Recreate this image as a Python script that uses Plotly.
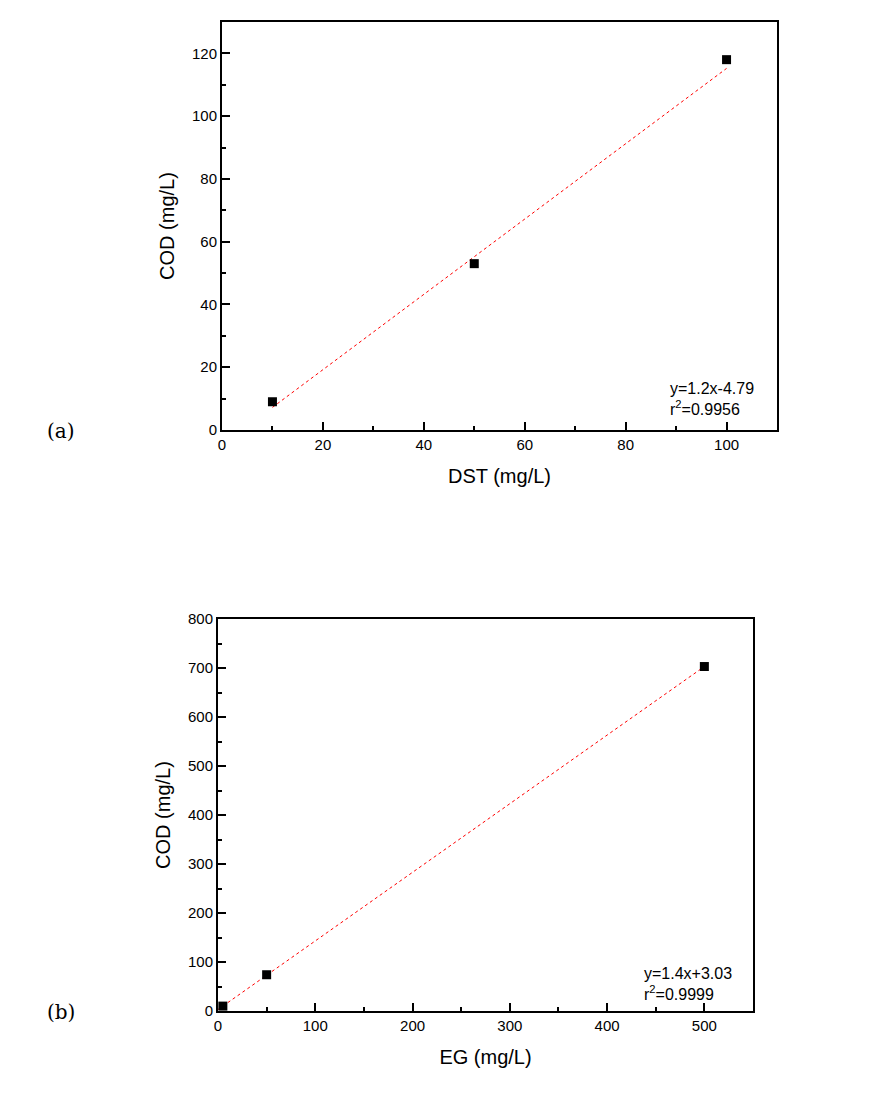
import plotly.graph_objects as go

# Panel (a): DST
dst_x = [10, 50, 100]
dst_cod = [9, 53, 118]
dst_fit_slope = 1.2
dst_fit_intercept = -4.79
dst_fit_range = [10, 100]

# Panel (b): EG
eg_x = [5, 50, 500]
eg_cod = [10, 74, 703]
eg_fit_slope = 1.4
eg_fit_intercept = 3.03
eg_fit_range = [0, 500]

W, H = 886, 1107
FONT = "Liberation Sans, Arial, sans-serif"

fig = go.Figure()

def add_panel(xs, ys, slope, icpt, rng, xa, ya):
    fx = list(rng)
    fy = [slope * v + icpt for v in fx]
    fig.add_trace(go.Scatter(x=fx, y=fy, mode="lines", xaxis=xa, yaxis=ya,
                             line=dict(color="red", width=1, dash="dot"),
                             showlegend=False, hoverinfo="skip"))
    fig.add_trace(go.Scatter(x=xs, y=ys, mode="markers", xaxis=xa, yaxis=ya,
                             marker=dict(symbol="square", size=9, color="black",
                                         line=dict(width=0)),
                             showlegend=False))

add_panel(dst_x, dst_cod, dst_fit_slope, dst_fit_intercept, dst_fit_range, "x", "y")
add_panel(eg_x, eg_cod, eg_fit_slope, eg_fit_intercept, eg_fit_range, "x2", "y2")

def px_x(p):
    return p / W

def px_y(p):
    return 1 - p / H

common = dict(showline=True, linecolor="black", linewidth=2, mirror=True,
              ticks="inside", ticklen=8, tickwidth=2, tickcolor="black",
              showgrid=False, zeroline=False, automargin=False,
              tickfont=dict(family=FONT, size=15, color="black"),
              title_font=dict(family=FONT, size=20, color="black"))

fig.update_layout(
    width=W, height=H, margin=dict(l=0, r=0, t=0, b=0, pad=0),
    paper_bgcolor="white", plot_bgcolor="white",
    xaxis=dict(domain=[px_x(222), px_x(777)], range=[0, 110], dtick=20,
               minor=dict(ticks="inside", ticklen=4, tickwidth=2, dtick=10, tickcolor="black"),
               title=dict(text="DST (mg/L)", standoff=17), anchor="y", **common),
    yaxis=dict(domain=[px_y(430), px_y(22)], range=[0, 130], dtick=20,
               minor=dict(ticks="inside", ticklen=4, tickwidth=2, dtick=10, tickcolor="black"),
               title=dict(text="COD (mg/L)", standoff=12), anchor="x", **common),
    xaxis2=dict(domain=[px_x(218), px_x(753)], range=[0, 550], dtick=100,
                minor=dict(ticks="inside", ticklen=4, tickwidth=2, dtick=50, tickcolor="black"),
                title=dict(text="EG (mg/L)", standoff=17), anchor="y2", **common),
    yaxis2=dict(domain=[px_y(1011), px_y(619)], range=[0, 800], dtick=100,
                minor=dict(ticks="inside", ticklen=4, tickwidth=2, dtick=50, tickcolor="black"),
                title=dict(text="COD (mg/L)", standoff=12), anchor="x2", **common),
)

ann_font = dict(family=FONT, size=16, color="black")
fig.add_annotation(x=px_x(668), y=px_y(399), xref="paper", yref="paper",
                   text="y=1.2x-4.79<br>r<sup>2</sup>=0.9956", showarrow=False,
                   xanchor="left", yanchor="middle", align="left", font=ann_font)
fig.add_annotation(x=px_x(642), y=px_y(984), xref="paper", yref="paper",
                   text="y=1.4x+3.03<br>r<sup>2</sup>=0.9999", showarrow=False,
                   xanchor="left", yanchor="middle", align="left", font=ann_font)

lab_font = dict(family="DejaVu Serif, Liberation Serif, serif", size=20, color="black")
fig.add_annotation(x=px_x(61), y=px_y(431), xref="paper", yref="paper", text="(a)",
                   showarrow=False, xanchor="center", yanchor="middle", font=lab_font)
fig.add_annotation(x=px_x(61), y=px_y(1012), xref="paper", yref="paper", text="(b)",
                   showarrow=False, xanchor="center", yanchor="middle", font=lab_font)

fig.write_html("out.html",
               post_script="document.body.style.margin='0';document.body.style.overflow='hidden';")
